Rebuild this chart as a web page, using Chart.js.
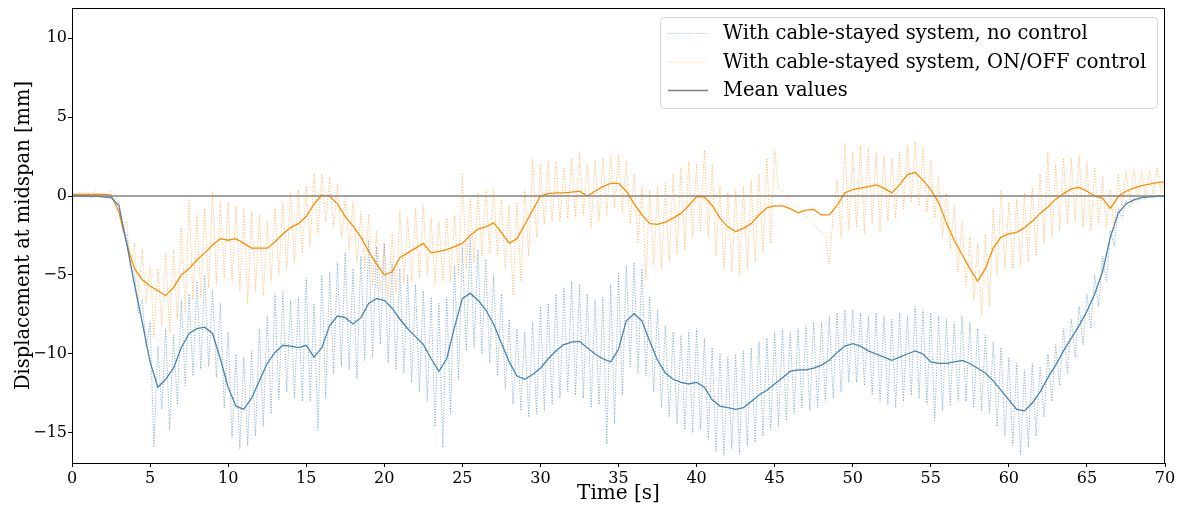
<!DOCTYPE html>
<html lang="en">
  <head>
    <meta charset="UTF-8" />
    <title>Displacement at midspan</title>
    <script src="https://cdn.jsdelivr.net/npm/chart.js"></script>
    <style>
      html, body { margin: 0; padding: 0; background: #fff; }
    </style>
  </head>
  <body>
    <canvas id="chart" width="1181" height="507"></canvas>
    <script>
      // series labels
      const labels = [
        'With cable-stayed system, no control',
        'With cable-stayed system, ON/OFF control',
        'Mean values',
      ];

      // sampled every 0.25 s, 0..70 s
      const noControl = [
        0, -0.05, 0.02, -0.08, -0.02, -0.1, 0.01, -0.06, -0.05, -0.12, -0.08, -0.2, -0.4, -2.2, -2.4, -4.6, -4.9, -7.4, -6.6, -9.6,
        -8.0, -15.9, -9.5, -13.5, -8.4, -14.8, -8.8, -13.2, -6.6, -12.0, -6.2, -11.4, -5.4, -11.0, -5.0, -10.8, -6.0, -11.5, -6.8, -13.4,
        -8.6, -15.3, -10.0, -16.0, -10.2, -15.8, -9.8, -15.2, -8.4, -14.6, -7.6, -13.8, -6.2, -12.9, -6.0, -12.4, -6.6, -12.8, -6.4, -13.0,
        -5.2, -13.0, -6.8, -14.8, -5.0, -12.8, -4.8, -11.2, -4.2, -10.8, -3.6, -11.0, -4.6, -11.6, -3.8, -10.4, -2.8, -10.2, -3.2, -9.4,
        -3.0, -10.6, -4.2, -11.0, -4.6, -11.2, -5.0, -11.8, -5.6, -12.4, -6.0, -13.0, -6.4, -14.6, -6.8, -15.9, -6.4, -13.8, -4.4, -11.6,
        -3.2, -9.8, -2.6, -9.6, -3.4, -10.0, -4.0, -10.6, -5.0, -11.4, -6.2, -12.2, -7.8, -13.2, -8.4, -13.6, -8.6, -14.0, -8.0, -13.8,
        -7.0, -13.6, -6.8, -13.2, -6.2, -12.8, -5.8, -12.4, -5.4, -12.6, -5.6, -12.8, -6.2, -13.4, -6.6, -13.2, -6.4, -15.7, -5.6, -14.4,
        -4.9, -12.6, -4.4, -10.8, -4.2, -11.2, -4.6, -11.4, -6.4, -12.4, -7.2, -13.4, -8.2, -14.0, -8.6, -14.4, -8.8, -14.8, -8.6, -15.0,
        -8.4, -14.8, -9.0, -15.4, -9.6, -16.2, -10.0, -16.4, -10.2, -16.0, -10.0, -16.3, -9.8, -15.8, -9.6, -15.6, -9.2, -15.2, -9.0, -14.8,
        -8.6, -14.6, -8.4, -14.2, -8.6, -13.8, -8.4, -13.4, -8.2, -13.6, -8.0, -13.4, -8.0, -13.0, -7.6, -12.8, -7.4, -12.4, -7.2, -11.8,
        -7.2, -11.8, -7.4, -12.0, -7.6, -12.6, -7.4, -13.0, -7.6, -13.2, -7.8, -13.4, -7.4, -13.0, -7.6, -12.6, -7.0, -12.8, -7.2, -13.2,
        -7.4, -14.2, -7.6, -13.6, -7.8, -13.2, -8.0, -13.0, -7.6, -13.0, -8.0, -13.4, -8.4, -13.6, -8.8, -13.8, -9.2, -14.6, -9.6, -15.2,
        -10.2, -15.8, -10.6, -16.4, -11.0, -15.9, -10.6, -15.2, -10.8, -14.0, -10.0, -13.0, -9.4, -12.0, -8.4, -11.2, -7.8, -10.2, -7.0, -9.4,
        -6.2, -8.4, -5.0, -7.0, -3.8, -5.4, -2.2, -3.2, -0.8, -1.4, -0.3, -0.7, -0.15, -0.35, -0.05, -0.2, 0, -0.1, 0.05, -0.05,
        0.05,
      ];

      // same grid, null = no sample (straight line drawn across)
      const onOff = [
        0.15, 0.05, 0.25, 0.1, 0.2, 0.0, 0.3, 0.1, 0.2, 0.05, 0.35, 0.1, -0.3, -2.2, -1.6, -4.4, -3.0, -6.6, -3.4, -6.8,
        -4.4, -8.9, -4.6, -8.2, -3.6, -8.6, -3.4, -7.8, -2.0, -7.4, -0.2, -6.6, -1.2, -6.4, -0.8, -5.8, 0.3, -5.6, -0.4, -5.2,
        -0.4, -5.4, -0.6, -6.0, -0.8, -6.8, -1.0, -6.0, -1.2, -6.3, -1.6, -5.4, -0.8, -5.0, -0.4, -4.6, 0.2, -4.2, 0.4, -3.6,
        0.6, -3.2, 1.45, -2.4, 1.4, -1.6, 1.2, -2.0, 0.8, -2.6, -0.2, -3.4, -0.4, -4.2, -1.0, -4.6, -1.2, -5.6, -2.2, -6.0,
        -3.0, -6.5, -2.4, -6.2, -0.9, -5.6, -1.4, -5.4, -0.8, -5.2, -0.6, -5.0, -1.4, -5.6, -1.6, -5.4, -1.4, -5.4, -1.2, -5.0,
        1.45, -4.6, -0.2, -4.2, 0.2, -3.8, 0.4, -3.6, 0.4, -3.8, -0.2, -4.6, -0.6, -6.2, -0.4, -5.4, 0.4, -3.8, 2.4, -2.6,
        2.0, -1.8, 2.2, -1.6, 2.2, -1.6, 1.8, -1.4, 2.4, -1.4, 2.8, -1.2, 2.0, -2.0, 2.2, -1.6, 2.4, -1.2, 2.6, -0.8,
        2.6, -1.0, 2.2, -1.8, 1.4, -3.0, 0.6, -5.3, 0.4, -4.4, 0.6, -4.6, 0.8, -4.2, 1.4, -3.6, 1.8, -3.4, 2.2, -2.6,
        2.0, -2.2, 2.9, -2.6, 2.0, -3.8, 0.6, -4.6, 0.2, -4.8, 0.4, -5.0, 0.6, -4.6, 1.0, -4.2, 1.4, -3.6, 2.4, -3.0,
        2.9, 0.5, null, null, null, null, null, null, null, null, null, null, null, -2.6, -4.3, -1.2, 1.0, -2.6, 3.35, -2.2,
        2.8, -2.0, 3.2, -2.4, 3.0, -1.8, 2.8, -2.2, 2.6, -1.6, 2.4, -1.4, 2.8, -0.8, 3.2, -0.4, 3.45, -0.6, 3.0, -1.0,
        2.2, -1.4, 1.2, -2.6, 0.2, -3.4, -0.6, -4.8, -1.6, -5.6, -2.6, -6.6, -3.0, -7.5, -2.4, -7.0, -0.8, -5.0, 0.4, -4.6,
        -0.4, -4.6, -0.2, -4.4, 0.2, -4.2, 0.6, -3.8, 1.4, -3.0, 2.8, -2.6, 2.0, -2.2, 2.4, -1.8, 2.4, -1.6, 2.6, -2.0,
        2.2, -2.2, 1.8, -1.8, 1.2, -2.0, 0.4, -2.2, 1.4, -0.8, 1.6, -0.4, 1.7, -0.2, 1.6, 0.0, 1.6, 0.1, 1.8, 0.2,
        1.2,
      ];

      // mean values, every 0.5 s
      const noControlMean = [
        0, 0, 0, 0, -0.05, -0.1, -0.6, -3.0, -5.6, -8.0,
        -10.5, -12.1, -11.6, -10.9, -9.6, -8.7, -8.4, -8.3, -8.7, -10.3,
        -12.1, -13.3, -13.5, -12.8, -11.7, -10.6, -9.9, -9.45, -9.5, -9.6,
        -9.45, -10.2, -9.6, -8.2, -7.6, -7.7, -8.1, -7.7, -6.8, -6.5,
        -6.6, -7.1, -7.8, -8.4, -8.9, -9.4, -10.3, -11.1, -10.3, -8.3,
        -6.5, -6.15, -6.6, -7.2, -8.1, -9.3, -10.5, -11.4, -11.6, -11.3,
        -10.9, -10.3, -9.8, -9.4, -9.25, -9.2, -9.6, -10.0, -10.3, -10.5,
        -9.7, -7.9, -7.45, -7.9, -9.2, -10.4, -11.2, -11.6, -11.8, -11.9,
        -11.8, -12.1, -12.9, -13.3, -13.4, -13.5, -13.4, -13.0, -12.6, -12.3,
        -11.9, -11.5, -11.1, -11.0, -11.0, -10.9, -10.7, -10.4, -9.9, -9.5,
        -9.35, -9.5, -9.8, -10.0, -10.2, -10.4, -10.2, -10.0, -9.8, -10.0,
        -10.5, -10.6, -10.6, -10.5, -10.4, -10.6, -10.9, -11.2, -11.7, -12.3,
        -12.9, -13.5, -13.6, -13.1, -12.4, -11.5, -10.7, -9.8, -9.0, -8.2,
        -7.3, -6.2, -4.8, -2.6, -1.1, -0.5, -0.25, -0.1, -0.05, -0.02,
        0,
      ];
      const onOffMean = [
        0.1, 0.1, 0.1, 0.1, 0.1, 0.05, -1.0, -3.0, -4.6, -5.3,
        -5.7, -6.0, -6.3, -5.8, -5.0, -4.6, -4.05, -3.6, -3.1, -2.7,
        -2.8, -2.7, -3.0, -3.3, -3.3, -3.3, -2.9, -2.4, -2.0, -1.75,
        -1.3, -0.5, 0.05, 0, -0.5, -1.3, -1.9, -2.6, -3.5, -4.3,
        -5.0, -4.8, -3.9, -3.6, -3.3, -3.0, -3.6, -3.5, -3.4, -3.2,
        -3.0, -2.5, -2.1, -1.95, -1.7, -2.3, -3.0, -2.7, -1.8, -0.9,
        0, 0.15, 0.2, 0.2, 0.25, 0.3, 0, 0.3, 0.6, 0.8,
        0.8, 0.3, -0.5, -1.2, -1.75, -1.8, -1.65, -1.4, -1.1, -0.6,
        -0.05, -0.05, -0.6, -1.4, -1.95, -2.25, -2.05, -1.75, -1.2, -0.75,
        -0.63, -0.63, -0.8, -1.06, -0.9, -0.85, -1.2, -1.2, -0.6, 0.2,
        0.4, 0.5, 0.6, 0.7, 0.5, 0.2, 0.7, 1.35, 1.5, 1.0,
        0.4, -0.4, -1.7, -2.8, -3.7, -4.6, -5.4, -4.6, -3.3, -2.6,
        -2.4, -2.3, -2.0, -1.6, -1.1, -0.7, -0.2, 0.15, 0.45, 0.55,
        0.3, 0, -0.15, -0.78, -0.05, 0.3, 0.5, 0.65, 0.75, 0.85,
        0.9,
      ];

      const xTicks = [0, 5, 10, 15, 20, 25, 30, 35, 40, 45, 50, 55, 60, 65, 70];
      const yTicks = [-15, -10, -5, 0, 5, 10];

      // sample times
      const toPoints = (vals, step) => vals.map((v, i) => ({ x: i * step, y: v }));

      const serif = 'DejaVu Serif';
      const blue = 'rgb(70, 130, 180)';
      const orange = 'rgb(255, 140, 0)';

      // box round the plot + legend inside the axes
      const framePlugin = {
        id: 'frame',
        afterDraw(chart) {
          const { ctx, chartArea: a } = chart;
          ctx.save();
          ctx.strokeStyle = '#000';
          ctx.lineWidth = 1;
          ctx.strokeRect(a.left + 0.5, a.top + 0.5, a.right - a.left - 1, a.bottom - a.top);

          // legend
          const w = 497, h = 91;
          const lx = a.right - 8 - w, ly = a.top + 9;
          ctx.beginPath();
          ctx.roundRect(lx + 0.5, ly + 0.5, w, h, 4);
          ctx.fillStyle = 'rgba(255,255,255,0.8)';
          ctx.fill();
          ctx.strokeStyle = '#d5d5d5';
          ctx.stroke();
          const items = [
            { color: 'rgba(70,130,180,0.55)', dash: [1, 1.65] },
            { color: 'rgba(255,140,0,0.45)', dash: [1, 1.65] },
            { color: '#7f7f7f', dash: [] },
          ];
          ctx.font = '19.5px "' + serif + '"';
          ctx.textBaseline = 'middle';
          ctx.fillStyle = '#000';
          items.forEach((it, i) => {
            const y = ly + 16 + i * 28.5;
            ctx.beginPath();
            ctx.setLineDash(it.dash);
            ctx.strokeStyle = it.color;
            ctx.lineWidth = it.dash.length ? 1 : 1.5;
            ctx.moveTo(lx + 8, y + 0.5);
            ctx.lineTo(lx + 48, y + 0.5);
            ctx.stroke();
            ctx.setLineDash([]);
            ctx.fillText(labels[i], lx + 63, y + 1);
          });
          ctx.restore();
        },
      };

      const tickFmt = (v) => (v < 0 ? '\u2212' + Math.abs(v) : String(v));

      new Chart(document.getElementById('chart'), {
        type: 'line',
        data: {
          datasets: [
            {
              label: labels[0],
              data: toPoints(noControl, 0.25),
              borderColor: 'rgba(70,130,180,0.7)',
              borderWidth: 1,
              borderDash: [1, 1.65],
              pointRadius: 0,
              tension: 0,
            },
            {
              label: labels[1],
              data: toPoints(onOff, 0.25),
              borderColor: 'rgba(255,140,0,0.6)',
              borderWidth: 1,
              borderDash: [1, 1.65],
              pointRadius: 0,
              spanGaps: true,
              tension: 0,
            },
            {
              label: 'zero',
              data: [{ x: 0, y: 0 }, { x: 70, y: 0 }],
              borderColor: '#808080',
              borderWidth: 1.5,
              pointRadius: 0,
            },
            {
              label: labels[2] + ' (no control)',
              data: toPoints(noControlMean, 0.5),
              borderColor: blue,
              borderWidth: 1.3,
              pointRadius: 0,
              tension: 0,
            },
            {
              label: labels[2] + ' (ON/OFF)',
              data: toPoints(onOffMean, 0.5),
              borderColor: orange,
              borderWidth: 1.3,
              pointRadius: 0,
              tension: 0,
            },
          ],
        },
        options: {
          responsive: false,
          animation: false,
          layout: { padding: { left: 0, right: 16, top: 8, bottom: 0 } },
          plugins: { legend: { display: false }, tooltip: { enabled: false } },
          scales: {
            x: {
              type: 'linear',
              min: 0,
              max: 70,
              afterBuildTicks: (s) => { s.ticks = xTicks.map((v) => ({ value: v })); },
              afterFit: (s) => { s.height = 44; s.paddingLeft = 0; s.paddingRight = 0; },
              ticks: { color: '#000', font: { family: serif, size: 16 }, padding: 2, maxRotation: 0, autoSkip: false, callback: tickFmt },
              grid: { drawOnChartArea: false, tickLength: 4, color: '#000' },
              border: { color: '#000' },
              title: { display: true, text: 'Time [s]', color: '#000', font: { family: serif, size: 20 }, padding: { top: 0, bottom: 1 } },
            },
            y: {
              min: -16.9,
              max: 11.9,
              afterBuildTicks: (s) => { s.ticks = yTicks.map((v) => ({ value: v })); },
              afterFit: (s) => { s.width = 72; s.paddingTop = 0; s.paddingBottom = 0; },
              ticks: { color: '#000', font: { family: serif, size: 16 }, padding: 1, autoSkip: false, callback: tickFmt },
              grid: { drawOnChartArea: false, tickLength: 4, color: '#000' },
              border: { color: '#000' },
              title: { display: true, text: 'Displacement at midspan [mm]', color: '#000', font: { family: serif, size: 19.5 }, padding: { top: 12, bottom: 0 } },
            },
          },
        },
        plugins: [framePlugin],
      });
    </script>
  </body>
</html>
